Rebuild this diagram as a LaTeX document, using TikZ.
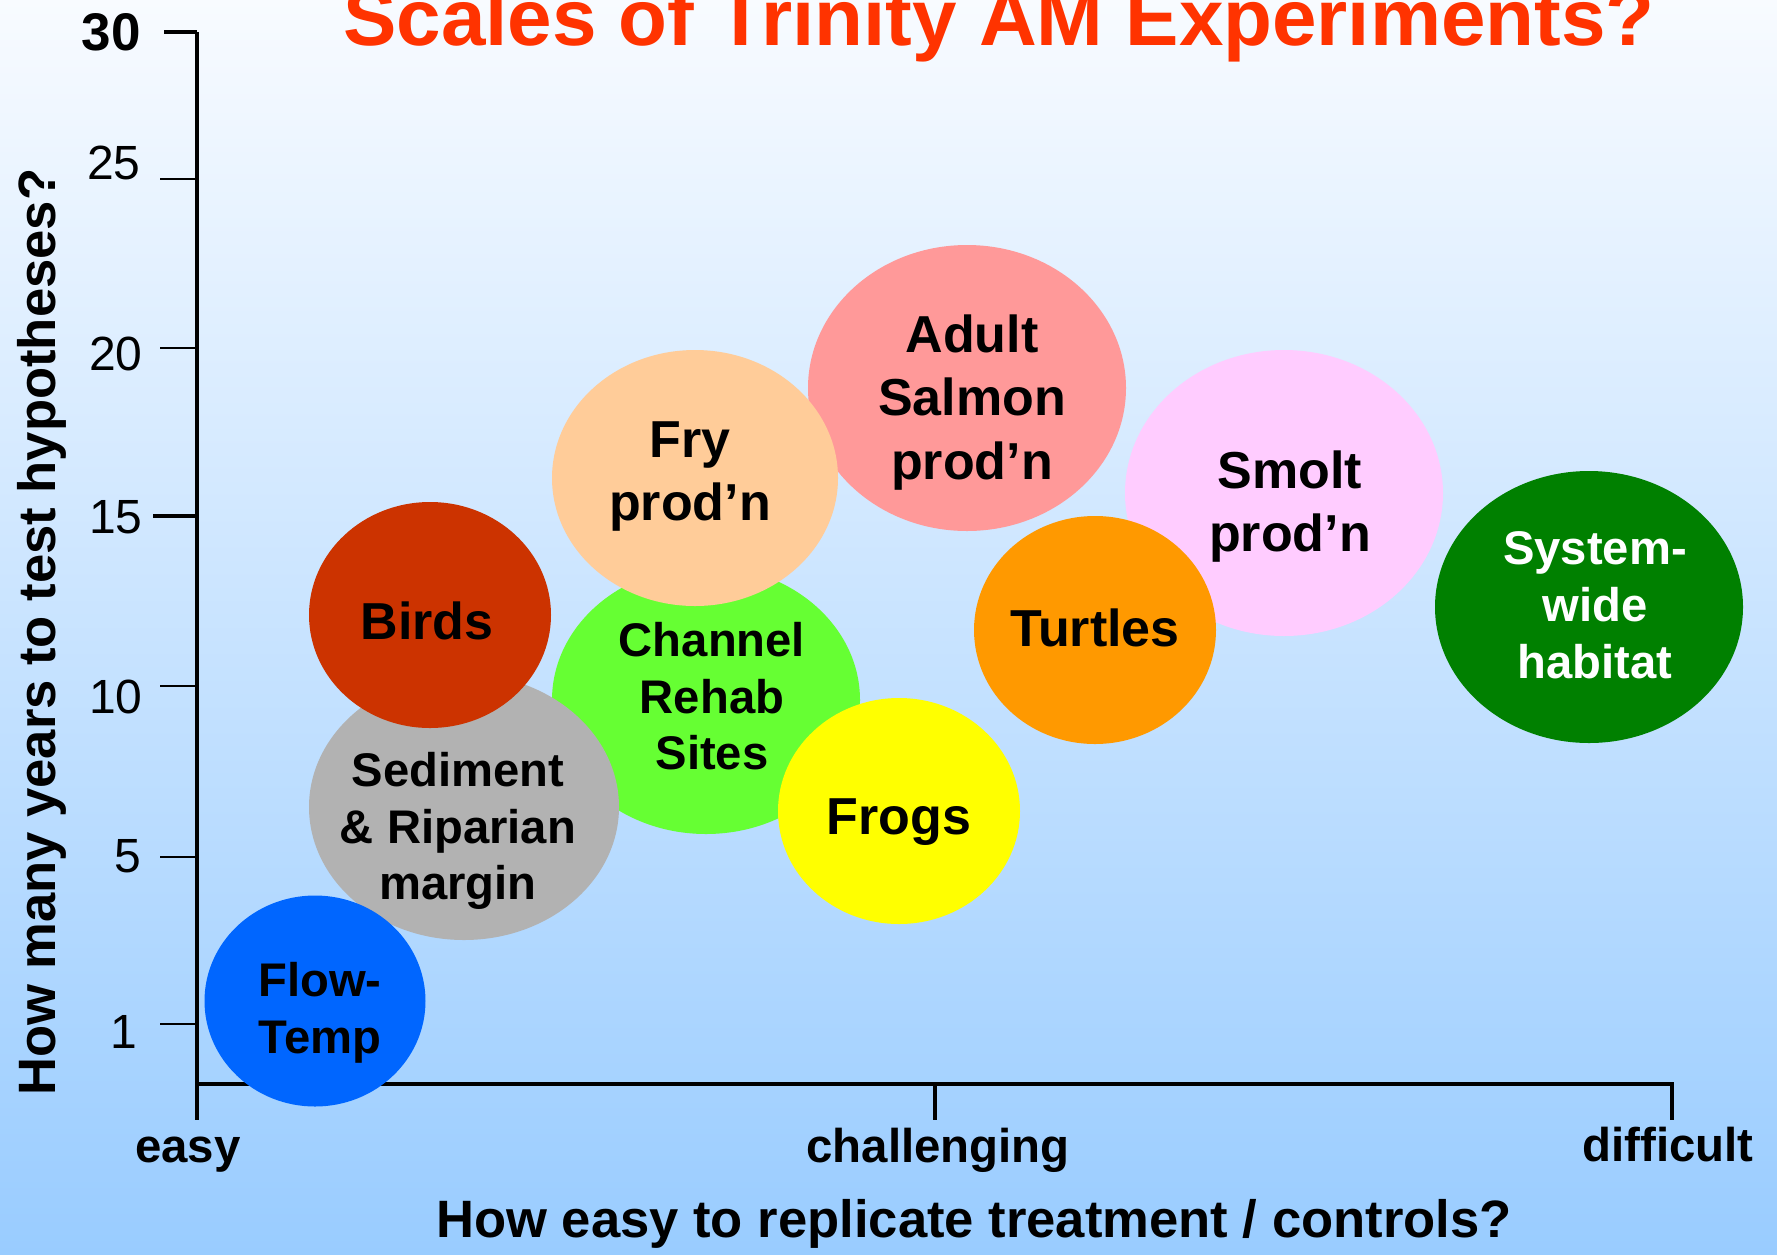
\documentclass[tikz,border=0pt]{standalone}
\usepackage{fontspec}
\setmainfont{Liberation Sans}
\usetikzlibrary{shapes.geometric}

\definecolor{bgtop}{RGB}{248,251,255}
\definecolor{bgbot}{RGB}{153,204,255}
\definecolor{titlered}{RGB}{255,51,0}
\definecolor{flowblue}{RGB}{0,102,255}
\definecolor{sedgray}{RGB}{178,178,178}
\definecolor{birdred}{RGB}{204,51,0}
\definecolor{rehabgreen}{RGB}{102,255,51}
\definecolor{frypeach}{RGB}{255,204,153}
\definecolor{salmonpink}{RGB}{255,153,153}
\definecolor{frogyellow}{RGB}{255,255,0}
\definecolor{turtleorange}{RGB}{255,153,0}
\definecolor{smoltpink}{RGB}{255,204,255}
\definecolor{sysgreen}{RGB}{0,128,0}

\begin{document}
\begin{tikzpicture}[x=0.5pt,y=-0.5pt,
  blob/.style={ellipse, inner sep=0pt, draw=none},
  biglbl/.style={font=\fontsize{26}{31.75}\selectfont\bfseries, align=center,
    text depth=0pt, inner sep=0pt},
  smalllbl/.style={font=\fontsize{23.6}{28.4}\selectfont\bfseries, align=center,
    text depth=0pt, inner sep=0pt},
  axisline/.style={line width=1.6pt, black},
  tickline/.style={line width=1.3pt, black},
  ticklbl/.style={font=\fontsize{24}{28}\selectfont, anchor=base east, inner sep=0pt},
  endlbl/.style={font=\fontsize{23.7}{28}\selectfont\bfseries, anchor=base, inner sep=0pt},
  axistitle/.style={font=\fontsize{26.3}{31}\selectfont\bfseries, anchor=base, inner sep=0pt}
]
\useasboundingbox (0,0) rectangle (1777,1254);
\clip (0,0) rectangle (1777,1254);
\fill[top color=bgtop, bottom color=bgbot] (0,0) rectangle (1777,1254);

% title
\node[font=\fontsize{40}{48}\selectfont\bfseries, text=titlered, anchor=base, inner sep=0pt]
  (title) at (999,45) {Scales of Trinity AM Experiments?};

% axes
\coordinate (ytop) at (197,32);
\coordinate (ybot) at (197,1120);
\coordinate (xleft) at (197,1084);
\coordinate (xright) at (1672,1084);
\draw[axisline] (ytop) -- (ybot);
\draw[axisline] (xleft) -- (xright) -- (1672,1120);
\draw[axisline] (935,1084) -- (935,1120);

% y ticks
\draw[line width=2pt] (164,32) -- (197,32);
\draw[tickline] (160,179) -- (197,179);
\draw[tickline] (160,348) -- (197,348);
\draw[line width=1.9pt] (153,516) -- (197,516);
\draw[tickline] (160,686) -- (197,686);
\draw[tickline] (160,857) -- (197,857);
\draw[tickline] (160,1024) -- (197,1024);

% y tick labels
\node[ticklbl, font=\fontsize{26.5}{30}\selectfont\bfseries] (t30) at (141,50) {30};
\node[ticklbl] (t25) at (141,179) {25};
\node[ticklbl] (t20) at (143,370) {20};
\node[ticklbl] (t15) at (143,533) {15};
\node[ticklbl] (t10) at (143,713) {10};
\node[ticklbl] (t5) at (142,872) {5};
\node[ticklbl] (t1) at (138,1048) {1};

% x end labels
\node[endlbl] (easy) at (188,1162) {easy};
\node[endlbl] (chal) at (938,1162) {challenging};
\node[endlbl] (diff) at (1668,1161) {difficult};

% axis titles
\node[axistitle] (xtitle) at (974,1237) {How easy to replicate treatment / controls?};
\node[axistitle, rotate=90] (ytitle) at (55,632) {How many years to test hypotheses?};

% bubbles, back to front
\node[blob, fill=salmonpink, minimum width=159pt, minimum height=143pt] (salmon) at (967,388) {};
\node[blob, fill=rehabgreen, minimum width=154pt, minimum height=134pt] (rehab) at (706,700) {};
\node[blob, fill=frypeach, minimum width=143pt, minimum height=128pt] (fry) at (695,478) {};
\node[blob, fill=sedgray, minimum width=155pt, minimum height=133pt] (sed) at (464,807) {};
\node[blob, fill=birdred, minimum width=121pt, minimum height=113pt] (birds) at (430,615) {};
\node[blob, fill=flowblue, minimum width=110.5pt, minimum height=105.5pt] (flow) at (315,1001) {};
\node[blob, fill=frogyellow, minimum width=121pt, minimum height=113pt] (frogs) at (899,811) {};
\node[blob, fill=smoltpink, minimum width=159pt, minimum height=143pt] (smolt) at (1284,493) {};
\node[blob, fill=turtleorange, minimum width=121pt, minimum height=114pt] (turtles) at (1095,630) {};
\node[blob, fill=sysgreen, minimum width=154pt, minimum height=136pt] (sys) at (1589,607) {};

% bubble labels
\node[smalllbl] (flowt) at (320,1008) {Flow-\\Temp};
\node[smalllbl] (sedt) at (458,826) {Sediment\\\& Riparian\\margin};
\node[biglbl] (birdst) at (427,621) {Birds};
\node[smalllbl] (rehabt) at (712,696) {Channel\\Rehab\\Sites};
\node[biglbl] (fryt) at (690,471) {Fry\\prod’n};
\node[biglbl] (salmont) at (972,397) {Adult\\Salmon\\prod’n};
\node[biglbl] (frogst) at (899,817) {Frogs};
\node[biglbl] (turtlest) at (1095,628) {Turtles};
\node[biglbl] (smoltt) at (1290,501) {Smolt\\prod’n};
\node[smalllbl, text=white] (syst) at (1595,605) {System-\\wide\\habitat};
\end{tikzpicture}
\end{document}
